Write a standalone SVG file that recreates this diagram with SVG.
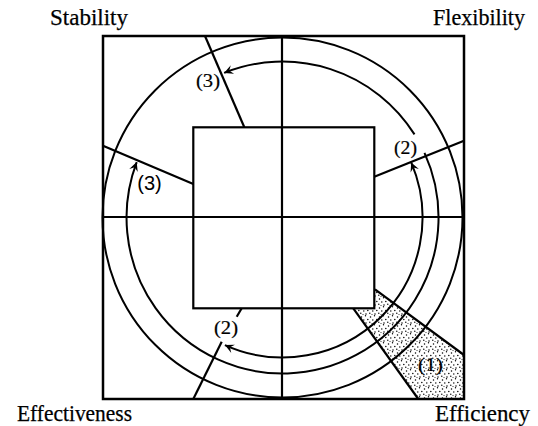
<svg xmlns="http://www.w3.org/2000/svg" width="538" height="426" viewBox="0 0 538 426">
<style>
.ln{stroke:#000;stroke-width:2.2;fill:none;stroke-linecap:butt}
.arc{stroke:#000;stroke-width:2;fill:none}
.lbl{font-family:"Liberation Serif","Times New Roman",serif;font-size:23px;fill:#000;stroke:#000;stroke-width:0.25}
.num{font-family:"Liberation Serif","Times New Roman",serif;font-size:19px;fill:#000;text-anchor:middle;stroke:#000;stroke-width:0.2}
.numb{font-family:"Liberation Sans",Arial,sans-serif;font-size:20px;fill:#000;text-anchor:middle}
</style>
<defs>
<pattern id="dots" width="9" height="9" patternUnits="userSpaceOnUse">
<circle cx="1.5" cy="2" r="0.75" fill="#000"/>
<circle cx="5.5" cy="0.8" r="0.7" fill="#000"/>
<circle cx="7.8" cy="4.5" r="0.75" fill="#000"/>
<circle cx="3.8" cy="5" r="0.7" fill="#000"/>
<circle cx="0.8" cy="7.3" r="0.7" fill="#000"/>
<circle cx="6" cy="8" r="0.75" fill="#000"/>
<circle cx="3" cy="8.5" r="0.5" fill="#000"/>
</pattern>
<marker id="ah" markerWidth="12" markerHeight="10" refX="0" refY="0" viewBox="-10 -5 12 10" orient="auto-start-reverse" markerUnits="userSpaceOnUse">
<path d="M0,0 L-9,-4.5 L-5.5,0 L-9,4.5 Z" fill="#000"/>
</marker>
</defs>
<rect width="538" height="426" fill="#fff"/>

<g id="shaded-efficiency">
<polygon points="375,289.3 464,355 464,399 418.3,399 353.3,308.3 374.3,308.3" fill="url(#dots)"/>
</g>

<g id="frame">
<rect x="103" y="36" width="361" height="363" class="ln" style="stroke-width:2.5"/>
<line x1="282" y1="36" x2="282" y2="399" class="ln"/>
<line x1="103" y1="217" x2="464" y2="217" class="ln"/>
</g>

<g id="outer-circle">
<circle cx="282.5" cy="217.5" r="180" class="arc"/>
</g>

<g id="inner-square">
<rect x="193.3" y="127.3" width="181" height="181" class="ln"/>
</g>

<g id="radial-lines">
<line x1="205" y1="36" x2="244.3" y2="127.3" class="ln"/>
<line x1="103" y1="145.7" x2="193.3" y2="184" class="ln"/>
<line x1="374.3" y1="176.7" x2="464" y2="140.7" class="ln"/>
<line x1="241.7" y1="308.3" x2="236.7" y2="316.7" class="ln"/>
<line x1="221.7" y1="341.7" x2="193.3" y2="399" class="ln"/>
<line x1="375" y1="289.3" x2="464" y2="355" class="ln"/>
<line x1="353.3" y1="308.3" x2="418.3" y2="399" class="ln"/>
</g>

<g id="connectors">
<path d="M224.9,345.1 A140,140 0 0 0 411.2,162.4" class="arc" marker-start="url(#ah)" marker-end="url(#ah)"/>
<path d="M424.5,152.8 A156,156 0 1 1 136.7,162.1" class="arc" marker-end="url(#ah)"/>
<path d="M414.5,134.4 A156,156 0 0 0 224.1,72.9" class="arc" marker-end="url(#ah)"/>
</g>

<g id="label-stability"><text x="50" y="25" class="lbl" textLength="78" lengthAdjust="spacingAndGlyphs">Stability</text></g>
<g id="label-flexibility"><text x="433" y="25" class="lbl" textLength="92" lengthAdjust="spacingAndGlyphs">Flexibility</text></g>
<g id="label-effectiveness"><text x="17" y="421" class="lbl" textLength="115" lengthAdjust="spacingAndGlyphs">Effectiveness</text></g>
<g id="label-efficiency"><text x="435" y="421" class="lbl" textLength="95" lengthAdjust="spacingAndGlyphs">Efficiency</text></g>

<g id="step-labels">
<text x="208" y="87" class="num" textLength="24" lengthAdjust="spacingAndGlyphs">(3)</text>
<text x="149.5" y="190" class="numb">(3)</text>
<text x="405.5" y="154" class="num" textLength="23" lengthAdjust="spacingAndGlyphs">(2)</text>
<text x="226" y="334" class="num" textLength="24" lengthAdjust="spacingAndGlyphs">(2)</text>
<text x="430.5" y="371" class="num" textLength="25" lengthAdjust="spacingAndGlyphs">(1)</text>
</g>
</svg>
